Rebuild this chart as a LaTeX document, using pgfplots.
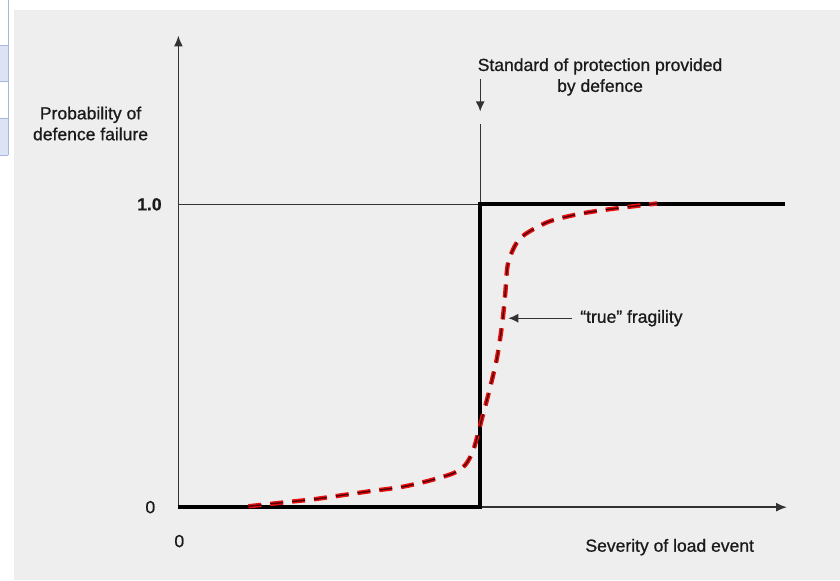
\documentclass[border=0pt]{standalone}
\usepackage{fontspec}
\setmainfont{Liberation Sans}
\usepackage{pgfplots}
\pgfplotsset{compat=1.18}
\usetikzlibrary{arrows.meta}
\definecolor{bg}{HTML}{EEEEEE}
\definecolor{cellfill}{HTML}{DCE4F4}
\definecolor{cellline}{HTML}{A6B8E0}
\definecolor{axcol}{HTML}{333333}
\definecolor{txtcol}{HTML}{1A1A1A}
\definecolor{dashred}{HTML}{E81010}
\definecolor{dashcore}{HTML}{500000}
\begin{document}
\begin{tikzpicture}[x=1bp,y=1bp]
\fill[white] (0,0) rectangle (840,580);
\fill[bg] (14,0) rectangle (840,570);
% left cell decoration
\fill[cellfill] (0,535) rectangle (8,499);
\fill[cellfill] (0,462) rectangle (8,425);
\draw[cellline,line width=1bp] (8,580) -- (8,425);
\draw[cellline,line width=1bp] (0,535) -- (8,535) (0,499) -- (8,499) (0,462) -- (8,462) (0,425) -- (8,425);
\begin{axis}[
  at={(178bp,73bp)}, anchor=south west,
  scale only axis, width=609bp, height=472bp,
  xmin=0, xmax=2.0166, ymin=0, ymax=1.5578,
  axis x line=bottom, axis y line=left,
  axis line style={axcol, line width=1.7bp, -{Latex[length=11bp,width=9bp]}},
  xtick=\empty, ytick=\empty,
  clip=false,
  font=\fontsize{17.6}{21}\selectfont\addfontfeature{FakeBold=0.8},
]
% thin reference lines
\addplot[axcol, line width=1.4bp] coordinates {(0,1) (1,1)};
\addplot[axcol, line width=1.4bp] coordinates {(1,1) (1,1.267)};
\addplot[axcol, line width=1.4bp, -{Latex[length=10bp,width=9bp]}] coordinates {(1,1.413) (1,1.307)};
% deterministic step
\addplot[black, line width=3.8bp] coordinates {(0,0) (1,0) (1,1) (2.01,1)};
% true fragility
\addplot[dashred, line width=4.4bp, dash pattern=on 13bp off 9bp, smooth, tension=0.45] coordinates {
(0.232,0.003) (0.361,0.017) (0.447,0.026) (0.546,0.040) (0.636,0.053) (0.735,0.066)
(0.825,0.086) (0.911,0.112) (0.950,0.139) (0.977,0.188) (1.007,0.297) (1.033,0.396)
(1.056,0.495) (1.073,0.607) (1.083,0.706) (1.093,0.809) (1.132,0.888) (1.222,0.941)
(1.321,0.967) (1.421,0.983) (1.586,1.003)};
\addplot[dashcore, line width=1.4bp, dash pattern=on 13bp off 9bp, smooth, tension=0.45] coordinates {
(0.232,0.003) (0.361,0.017) (0.447,0.026) (0.546,0.040) (0.636,0.053) (0.735,0.066)
(0.825,0.086) (0.911,0.112) (0.950,0.139) (0.977,0.188) (1.007,0.297) (1.033,0.396)
(1.056,0.495) (1.073,0.607) (1.083,0.706) (1.093,0.809) (1.132,0.888) (1.222,0.941)
(1.321,0.967) (1.421,0.983) (1.586,1.003)};
\addplot[axcol, line width=1.4bp, -{Latex[length=10bp,width=9bp]}] coordinates {(1.305,0.624) (1.093,0.624)};
% labels
\node[anchor=west, text=txtcol, inner sep=0] at (axis cs:1.331,0.624) {``true'' fragility};
\node[align=center, text=txtcol, inner sep=0] at (axis cs:1.397,1.421) {Standard of protection provided\\by defence};
\node[align=center, text=txtcol, inner sep=0] at (axis cs:-0.291,1.267) {Probability of\\defence failure};
\node[text=txtcol, inner sep=0] at (axis cs:-0.096,1) {\textbf{1.0}};
\node[text=txtcol, inner sep=0] at (axis cs:-0.093,0) {0};
\node[text=txtcol, inner sep=0] at (axis cs:0.003,-0.112) {0};
\node[text=txtcol, anchor=west, inner sep=0] at (axis cs:1.348,-0.132) {Severity of load event};
\end{axis}
\end{tikzpicture}
\end{document}
